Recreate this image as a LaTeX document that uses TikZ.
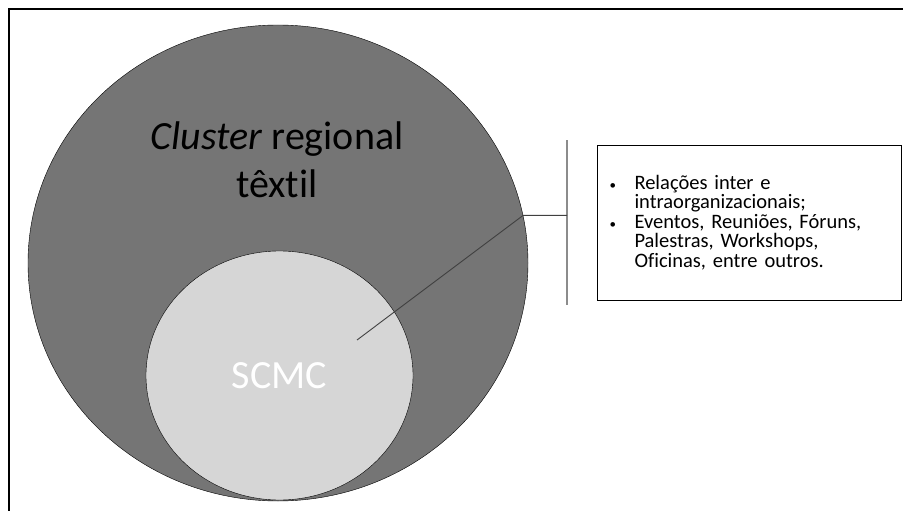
\documentclass[tikz,border=0pt]{standalone}
\usepackage{fontspec}
\setmainfont{Carlito}[Ligatures=NoCommon]
\usetikzlibrary{shapes}
\tikzstyle{outer} = [ellipse, draw, fill=black!54, minimum width=500pt, minimum height=476pt,
    inner sep=0pt]
\tikzstyle{inner} = [ellipse, draw, fill=black!16, minimum width=267pt, minimum height=249pt,
    inner sep=0pt, text=white, font=\fontsize{40}{48}\selectfont]
\tikzstyle{infobox} = [rectangle, draw, line width=1pt, text width=280pt, minimum height=155pt,
    inner xsep=12pt, align=left, font=\fontsize{20.5}{19.5}\selectfont]
\tikzstyle{line} = [draw, black!75, line width=0.9pt]
\newcommand{\marca}{\makebox[25pt][l]{\fontsize{13}{13}\selectfont\textbullet}}
\newcommand{\recuo}{\hspace*{25pt}}

\begin{document}
\begin{tikzpicture}[x=1pt,y=-1pt]
      \useasboundingbox (0,0) rectangle (903,511);
      \draw [line width=2pt] (9,511) -- (9,9) -- (903,9);

      \node [outer] (cluster) at (278,263) {};
      \node [font=\fontsize{40}{48}\selectfont, align=center] (titulo) at (277,160)
            {\textit{Cluster} regional\\têxtil};
      \node [inner] (scmc) at (279.5,375.5) {SCMC};

      \coordinate (ponta) at (357,340);
      \coordinate (barratopo) at (567,140);
      \coordinate (barrabase) at (567,305);
      \draw [black!45, line width=1.5pt] (barratopo) -- (barrabase);

      \node [infobox] (info) at (749.5,222.5)
            {\marca Relações inter e\\
             \recuo intraorganizacionais;\\
             \marca Eventos, Reuniões, Fóruns,\\
             \recuo Palestras, Workshops,\\
             \recuo Oficinas, entre outros.};

      \path [line] (ponta) -- (cluster.11) -- (cluster.11 -| barratopo);
\end{tikzpicture}
\end{document}
